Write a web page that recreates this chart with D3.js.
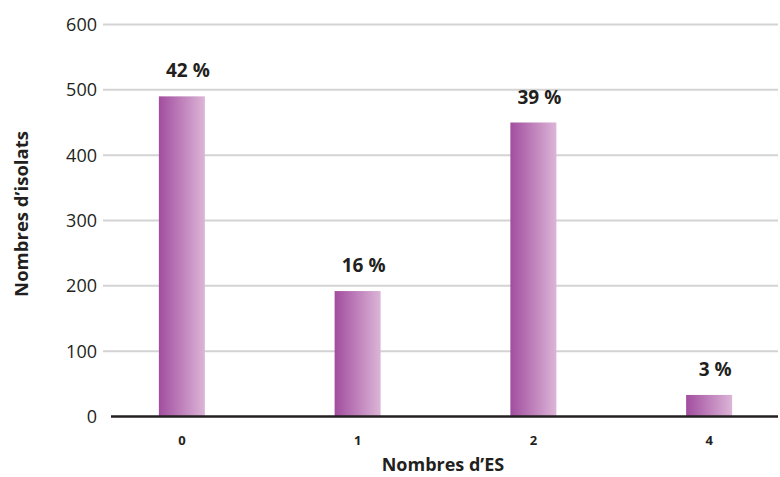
<!DOCTYPE html>
<html>
<head>
<meta charset="utf-8">
<script src="https://cdn.jsdelivr.net/npm/d3@7"></script>
<style>
	body { margin: 0; background: #fff; }
	text { font-family: "Open Sans", "Noto Sans", sans-serif; fill: #231f20; }
</style>
</head>
<body>
<div id="chart"></div>
<script>
// data
var categories = ["0", "1", "2", "4"];
var isolats = [490, 192, 450, 33];
var percents = ["42 %", "16 %", "39 %", "3 %"];
var yTicks = [0, 100, 200, 300, 400, 500, 600];

var width = 780;
var height = 477;

var svg = d3.select("#chart")
	.append("svg")
	.attr("width", width)
	.attr("height", height);

var defs = svg.append("defs");
var grad = defs.append("linearGradient")
	.attr("id", "barGrad")
	.attr("x1", "0%").attr("x2", "100%")
	.attr("y1", "0%").attr("y2", "0%");
grad.append("stop").attr("offset", "0%").attr("stop-color", "#a24d9f");
grad.append("stop").attr("offset", "100%").attr("stop-color", "#dcb5d7");

var y = d3.scaleLinear()
	.domain([0, 600])
	.range([416.5, 24.5]);

var x = d3.scaleBand()
	.domain(categories)
	.range([94, 797]);

var barWidth = 46;

// gridlines
svg.append("g")
	.selectAll("line")
	.data(yTicks.filter(function(d) { return d > 0; }))
	.enter()
	.append("line")
	.attr("x1", 103)
	.attr("x2", 778)
	.attr("y1", function(d) { return y(d); })
	.attr("y2", function(d) { return y(d); })
	.attr("stroke", "#d3d3d3")
	.attr("stroke-width", 2);

// y tick labels
svg.append("g")
	.selectAll("text")
	.data(yTicks)
	.enter()
	.append("text")
	.attr("x", 97)
	.attr("y", function(d) { return y(d); })
	.attr("dy", "0.36em")
	.attr("text-anchor", "end")
	.style("font-size", "18px")
	.text(function(d) { return d; });

// bars
svg.append("g")
	.selectAll("rect")
	.data(isolats)
	.enter()
	.append("rect")
	.attr("x", function(d, i) { return x(categories[i]) + x.bandwidth() / 2 - barWidth / 2; })
	.attr("y", function(d) { return y(d); })
	.attr("width", barWidth)
	.attr("height", function(d) { return y(0) - y(d); })
	.attr("fill", "url(#barGrad)");

// percentage labels
svg.append("g")
	.selectAll("text")
	.data(isolats)
	.enter()
	.append("text")
	.attr("x", function(d, i) { return x(categories[i]) + x.bandwidth() / 2 + 6; })
	.attr("y", function(d) { return y(d) - 19; })
	.attr("text-anchor", "middle")
	.style("font-size", "19px")
	.style("font-weight", "bold")
	.text(function(d, i) { return percents[i]; });

// x axis line
svg.append("line")
	.attr("x1", 111)
	.attr("x2", 778)
	.attr("y1", y(0))
	.attr("y2", y(0))
	.attr("stroke", "#231f20")
	.attr("stroke-width", 2.5);

// x tick labels
svg.append("g")
	.selectAll("text")
	.data(categories)
	.enter()
	.append("text")
	.attr("x", function(d) { return x(d) + x.bandwidth() / 2; })
	.attr("y", 445)
	.attr("text-anchor", "middle")
	.style("font-size", "13px")
	.style("font-weight", "bold")
	.text(function(d) { return d; });

// axis titles
svg.append("text")
	.attr("x", 443)
	.attr("y", 471)
	.attr("text-anchor", "middle")
	.style("font-size", "18px")
	.style("font-weight", "bold")
	.text("Nombres d\u2019ES");

svg.append("text")
	.attr("transform", "translate(28,214) rotate(-90)")
	.attr("text-anchor", "middle")
	.style("font-size", "18.5px")
	.style("font-weight", "bold")
	.text("Nombres d\u2019isolats");
</script>
</body>
</html>
